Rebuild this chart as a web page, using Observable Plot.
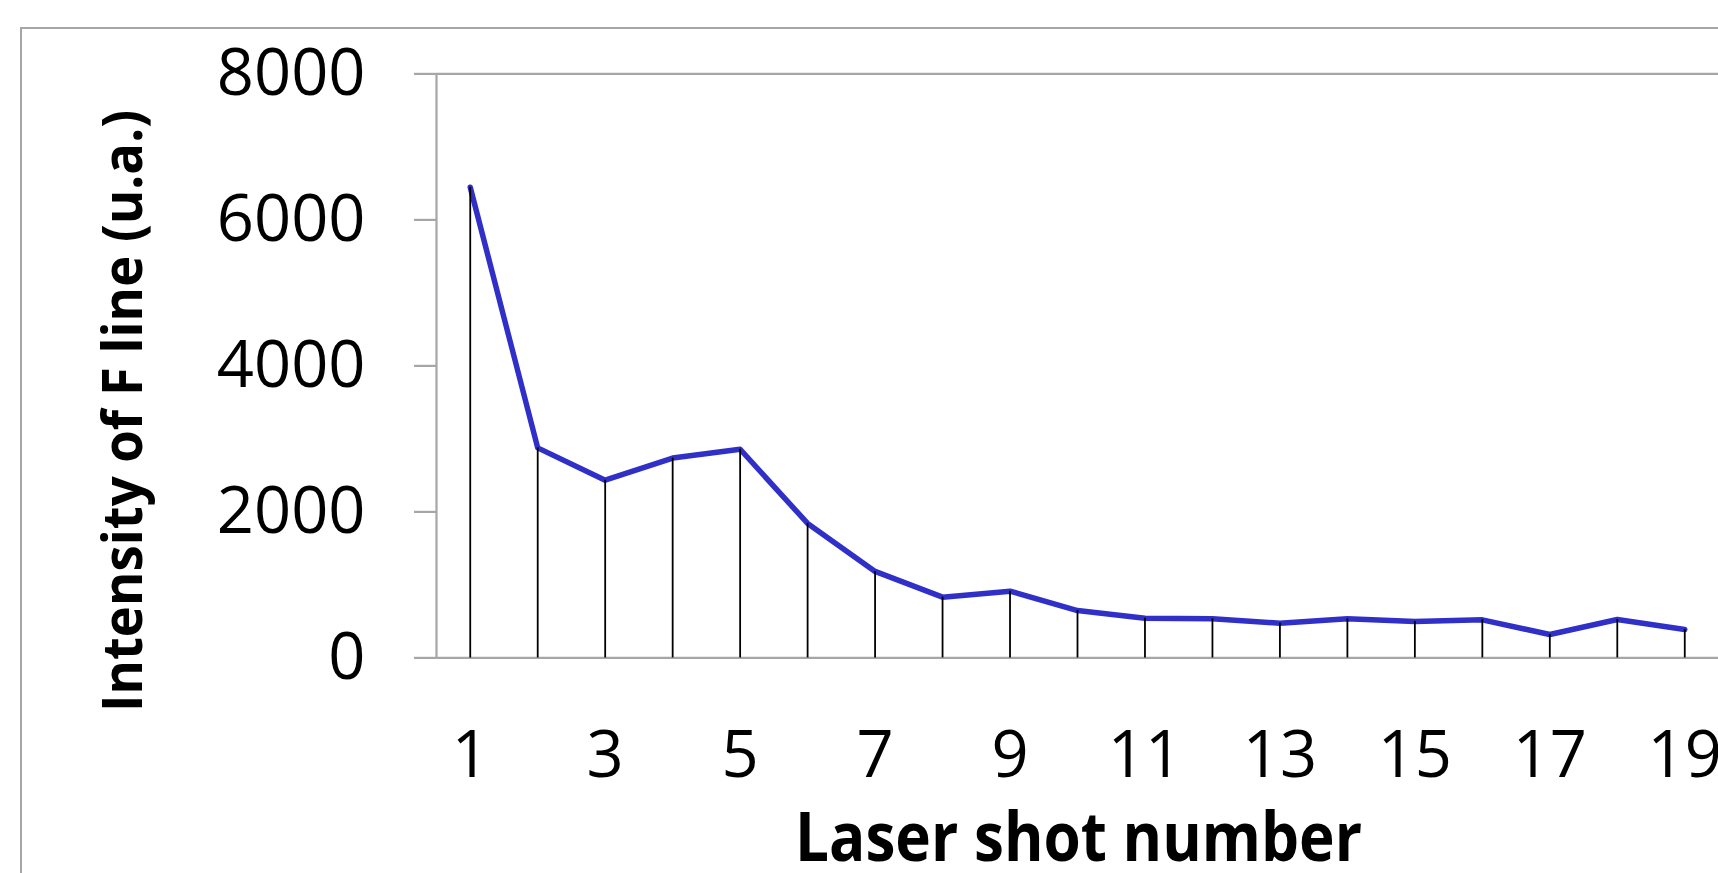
<!DOCTYPE html>
<html><head><meta charset="utf-8">
<script src="https://cdn.jsdelivr.net/npm/d3@7"></script>
<script src="https://cdn.jsdelivr.net/npm/@observablehq/plot@0.6"></script>
<style>
html,body{margin:0;padding:0;background:#fff;overflow:hidden;width:1718px;height:873px}
#wrap{position:relative;width:1718px;height:873px;overflow:hidden}
#border{position:absolute;left:20px;top:27px;width:1800px;height:1000px;border-left:2px solid #a6a6a6;border-top:2px solid #a6a6a6}
#chart{position:absolute;left:0;top:0}
</style></head><body>
<div id="wrap"><div id="border"></div><div id="chart"></div></div>
<script>
const shots = [1, 2, 3, 4, 5, 6, 7, 8, 9, 10, 11, 12, 13, 14, 15, 16, 17, 18, 19];
const intensity = [6447, 2877, 2434, 2737, 2858, 1842, 1185, 832, 914, 649, 544, 535, 476, 535, 499, 521, 320, 526, 389];
const yTicks = [0, 2000, 4000, 6000, 8000];
const xTicks = [1, 3, 5, 7, 9, 11, 13, 15, 17, 19];
const xLabel = "Laser shot number";
const yLabel = "Intensity of F line (u.a.)";

const data = shots.map((s, i) => ({shot: s, value: intensity[i]}));
const W = 1718, H = 873;
const axisGray = "#a6a6a6";

const plot = Plot.plot({
  width: W, height: H,
  marginLeft: 436, marginRight: 0, marginTop: 73.4, marginBottom: 215.6,
  x: {type: "linear", domain: [0.5, 19.5], label: null},
  y: {domain: [0, 8000], label: null},
  style: {fontFamily: "'Open Sans', sans-serif", background: "transparent", overflow: "visible", color: "#000"},
  marks: [
    Plot.ruleY([8000], {stroke: axisGray, strokeWidth: 2.2}),
    Plot.ruleY([0], {stroke: axisGray, strokeWidth: 2.2}),
    Plot.ruleX([0.5], {y1: 0, y2: 8000, stroke: axisGray, strokeWidth: 2.2}),
    Plot.axisY({ticks: yTicks, tickSize: 22, tickPadding: 49, stroke: axisGray, strokeWidth: 2.2, fill: "#000", fontSize: 65, tickFormat: d => String(d)}),
    Plot.axisX({ticks: xTicks, tickSize: 0, tickPadding: 73, fill: "#000", fontSize: 65, tickFormat: d => String(d)}),
    Plot.line(data, {x: "shot", y: "value", stroke: "#3030c8", strokeWidth: 5.5}),
    Plot.ruleX(data, {x: "shot", y1: 0, y2: "value", stroke: "#000", strokeWidth: 1.8})
  ]
});

const svg = d3.select(plot);
svg.append("text")
  .attr("transform", "translate(142,411) rotate(-90)")
  .attr("text-anchor", "middle")
  .attr("font-weight", 700)
  .attr("font-size", 56)
  .attr("fill", "#000")
  .attr("textLength", 602)
  .attr("lengthAdjust", "spacingAndGlyphs")
  .text(yLabel);
svg.append("text")
  .attr("transform", "translate(1078.5,861)")
  .attr("text-anchor", "middle")
  .attr("font-weight", 700)
  .attr("font-size", 68)
  .attr("fill", "#000")
  .attr("textLength", 567)
  .attr("lengthAdjust", "spacingAndGlyphs")
  .text(xLabel);

document.getElementById("chart").appendChild(plot);
</script>
</body></html>
